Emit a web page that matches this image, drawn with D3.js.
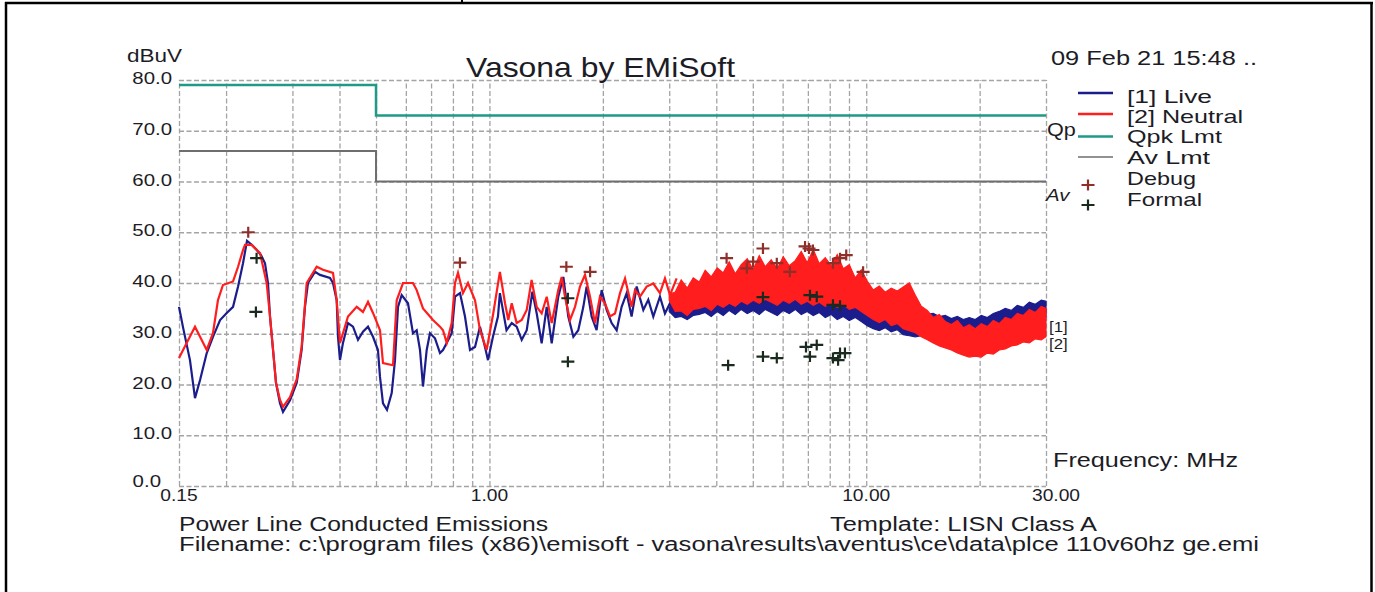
<!DOCTYPE html>
<html><head><meta charset="utf-8">
<script src="https://cdn.jsdelivr.net/npm/d3@7"></script>
<style>
html,body{margin:0;padding:0;background:#fff;}
svg{display:block;}
text{font-family:"Liberation Sans",Arial,sans-serif;fill:#1c1c26;}
</style></head><body>
<svg id="chart" width="1375" height="592"></svg>
<script>
// ---------- data ----------
const xTickValues = [0.15, 1, 10, 30];
const xTickLabels = ["0.15", "1.00", "10.00", "30.00"];
const xGridValues = [0.15, 0.2, 0.3, 0.4, 0.5, 0.6, 0.7, 0.8, 0.9, 1, 2, 3, 4, 5, 6, 7, 8, 9, 10, 20, 30];
const yTickValues = [0, 10, 20, 30, 40, 50, 60, 70, 80];
const yTickLabels = ["0.0", "10.0", "20.0", "30.0", "40.0", "50.0", "60.0", "70.0", "80.0"];

const limitFreq = [0.15, 0.5, 0.5, 30];
const qpkLimit = [79, 79, 73, 73];
const avLimit = [66, 66, 60, 60];

const liveFreq = [0.150,0.1537,0.1604,0.1654,0.1706,0.1777,0.1846,0.1928,0.2008,0.2087,0.2152,0.2218,0.2273,0.2343,0.2412,0.2476,0.2537,0.2584,0.2616,0.2665,0.2714,0.2780,0.2832,0.2956,0.3079,0.3174,0.3239,0.3299,0.3444,0.3551,0.3774,0.3844,0.3932,0.3963,0.4012,0.4086,0.4213,0.4344,0.4479,0.4617,0.4761,0.4909,0.5060,0.5123,0.5218,0.5347,0.5503,0.5615,0.5719,0.5849,0.6079,0.6267,0.6411,0.6542,0.6663,0.6815,0.6953,0.7169,0.7392,0.7529,0.7702,0.7940,0.8103,0.8355,0.8612,0.8880,0.9156,0.9438,0.9732,0.9913,1.0217,1.0535,
  1.066,1.110,1.146,1.181,1.218,1.256,1.300,1.335,1.376,1.419,1.463,1.523,1.571,1.619,1.670,1.721,1.775,1.811,1.867,1.925,1.985,2.047,2.110,2.176,2.243,2.313,2.384,2.459,2.561,2.640,2.722,2.835,2.923,3.014,3.139];
const liveLevel = [35.3,31.3,24.8,17.3,20.9,26.2,29.4,32.7,34.1,35.3,39.3,43.9,48.3,47.5,46.5,45.5,43.9,40.0,33.4,26.8,20.3,16.3,14.6,16.9,20.3,26.8,35.3,40.0,42.2,41.6,41.0,40.0,36.6,29.4,24.8,28.2,32.1,31.4,28.8,30.4,31.4,29.4,26.8,21.5,16.3,15.0,18.3,24.8,35.3,37.6,36.0,30.1,30.7,26.8,19.6,26.8,30.1,29.1,26.2,26.8,28.2,30.1,37.3,38.0,33.4,26.8,27.4,31.4,27.4,24.8,29.4,33.4,
  38.0,30.7,32.1,31.4,28.8,30.7,38.3,34.0,28.1,35.3,28.1,37.3,41.2,33.4,29.4,30.7,35.3,39.3,33.4,30.7,38.6,34.7,32.1,30.7,35.3,38.0,33.4,39.3,34.7,36.7,33.4,37.3,34.0,36.0,34.0];

const neutralFreq = [0.150,0.1572,0.1654,0.1706,0.1777,0.1846,0.1903,0.1962,0.2087,0.2152,0.2218,0.2245,0.2339,0.2461,0.2563,0.2616,0.2665,0.2714,0.2780,0.2832,0.2956,0.3079,0.3174,0.3273,0.3480,0.3616,0.3844,0.3932,0.4012,0.4086,0.4213,0.4444,0.4617,0.4761,0.4909,0.5123,0.5218,0.5547,0.5674,0.5897,0.6267,0.6411,0.6663,0.7082,0.7392,0.7529,0.7702,0.7940,0.8103,0.8252,0.8507,0.8772,0.9156,
  0.944,0.983,1.024,1.066,1.100,1.122,1.146,1.181,1.218,1.256,1.294,1.335,1.376,1.419,1.463,1.523,1.555,1.587,1.636,1.687,1.739,1.793,1.849,1.906,1.965,2.026,2.089,2.154,2.221,2.290,2.384,2.434,2.509,2.614,2.722,2.835,2.923,3.014,3.139];
const neutralLevel = [25.2,28.2,31.4,29.4,26.8,30.1,36.6,39.6,40.3,43.2,46.5,47.5,47.5,45.9,40.0,33.4,26.8,20.3,17.0,15.6,17.5,21.0,27.5,40.0,43.2,42.6,42.0,36.6,28.2,30.1,33.4,35.3,34.3,36.3,34.1,30.7,24.2,23.8,36.6,40.0,40.0,38.6,35.0,32.7,31.4,30.7,28.2,32.1,40.0,42.0,38.0,40.0,36.6,
  30.7,26.8,34.1,42.2,36.0,32.7,36.0,32.1,32.7,34.7,40.6,35.3,34.0,37.3,32.1,38.6,41.2,37.3,32.7,35.3,39.3,41.6,37.3,32.1,37.3,36.0,33.4,34.0,38.0,40.9,35.3,38.6,37.3,39.3,39.9,38.0,40.9,37.6,40.9];

// dense part of the sweep (3 - 30 MHz): spread of each trace
const bandFreq = [3.00,3.112,3.228,3.349,3.474,3.604,3.738,3.878,4.023,4.173,4.329,4.491,4.659,4.833,5.013,5.201,5.395,5.597,5.806,6.023,6.248,6.481,6.723,6.974,7.235,7.505,7.785,8.076,8.378,8.691,9.015,9.352,9.701,10.06,10.44,10.83,11.23,11.65,12.09,12.54,13.01,13.50,14.00,14.52,15.06,15.63,16.21,16.82,17.45,18.10,18.77,19.47,20.20,20.96,21.74,22.55,23.39,24.27,25.17,26.11,27.09,28.10,29.15,30.00];
const neutralBandHi = [37.8,38.2,40.6,39.0,41.0,40.2,42.5,41.2,43.0,42.0,44.2,41.8,43.6,44.8,42.6,45.4,43.2,44.6,42.8,45.2,43.4,44.4,46.2,44.0,46.6,43.8,45.0,43.4,45.6,42.8,43.6,41.0,42.6,40.4,38.6,39.4,38.2,39.0,38.4,39.2,40.0,37.6,35.4,34.6,33.2,33.8,32.4,31.8,32.6,31.2,31.8,31.0,32.0,31.4,32.6,32.0,33.2,32.8,34.0,33.6,34.8,34.2,35.4,35.0];
const neutralBandLo = [36.6,34.4,34.5,33.6,34.8,35.0,35.4,34.6,35.8,35.2,36.0,35.4,36.4,35.8,36.6,36.0,36.8,36.2,35.6,36.6,36.0,36.8,35.8,36.4,35.6,36.2,35.4,36.0,35.2,35.8,34.8,35.2,34.4,33.6,32.8,32.2,32.8,31.6,32.0,31.0,30.6,30.2,29.4,28.8,28.2,27.6,27.2,26.8,26.2,25.8,25.4,25.6,25.4,26.2,26.0,26.8,27.0,27.6,27.8,28.4,28.2,29.0,28.8,29.4];
const liveBandHi = [35.2,36.2,38.0,37.0,38.4,37.6,38.8,38.0,39.2,38.6,39.8,38.8,40.0,39.4,40.4,39.6,40.6,39.8,40.2,40.8,39.6,40.6,41.0,40.2,40.8,40.0,39.6,40.2,39.4,39.8,38.6,38.2,37.6,37.0,36.2,35.6,35.0,34.8,34.4,34.0,33.8,34.2,34.4,33.8,34.0,33.4,33.6,33.0,33.4,32.8,33.2,32.8,33.6,33.2,34.0,34.4,35.0,34.6,35.6,35.2,36.2,35.8,36.6,36.4];
const liveBandLo = [34.4,33.2,33.4,32.8,33.6,33.8,34.2,33.4,34.4,33.6,34.6,33.8,34.8,34.0,34.6,33.8,34.8,34.2,33.6,34.6,34.0,34.8,33.8,34.4,33.6,34.2,33.2,33.8,32.8,33.4,32.6,33.2,32.4,31.6,31.0,30.6,31.2,30.4,30.8,29.8,29.6,29.4,29.6,29.8,30.0,29.8,30.0,30.2,30.0,30.4,30.6,30.8,30.6,31.0,31.2,31.4,31.8,32.0,32.4,32.6,32.8,33.2,33.0,33.4];

const debugFreq = [0.229,0.835,1.60,1.85,4.26,4.82,5.01,5.32,5.79,6.27,6.88,7.05,7.22,8.16,8.52,8.85,9.81];
const debugLevel = [50.0,44.0,43.2,42.2,44.9,42.9,44.2,46.8,43.9,42.2,47.2,46.8,46.5,43.9,44.9,45.5,42.2];
const formalFreq = [0.241,0.240,1.615,1.615,4.30,5.32,5.32,5.79,6.92,7.09,7.09,7.39,7.39,8.16,8.16,8.42,8.52,8.52,8.78];
const formalLevel = [44.9,34.3,37.0,24.5,23.8,25.5,37.2,25.2,27.4,25.5,37.6,27.8,37.3,25.2,35.7,24.8,26.2,35.5,26.2];

const legendLabels = ["[1] Live", "[2] Neutral", "Qpk Lmt", "Av Lmt", "Debug", "Formal"];

// ---------- drawing ----------
const svg = d3.select("#chart");
const C = {live:"#1b1d8c", neutral:"#ff1d1d", qpk:"#1e9a86", av:"#6e6e6e", grid:"#a4a4a4", debug:"#8e2f2a", formal:"#1b2a1e"};

const x = d3.scaleLog().domain([0.15, 30]).range([179, 1046]);
const y = d3.scaleLinear().domain([0, 80]).range([486, 80]);

// page frame
svg.append("line").attr("x1",5).attr("x2",1373).attr("y1",3).attr("y2",3).attr("stroke","#000").attr("stroke-width",2.5);
svg.append("line").attr("x1",6).attr("x2",6).attr("y1",2).attr("y2",592).attr("stroke","#000").attr("stroke-width",2.5);
svg.append("line").attr("x1",1371.5).attr("x2",1371.5).attr("y1",2).attr("y2",592).attr("stroke","#000").attr("stroke-width",2.5);
svg.append("line").attr("x1",462).attr("x2",462).attr("y1",0).attr("y2",4).attr("stroke","#000").attr("stroke-width",2);

// grid via axes
const gx = svg.append("g").attr("transform",`translate(0,${y(0)})`)
  .call(d3.axisBottom(x).tickValues(xGridValues).tickSize(-(y(0)-y(80))).tickFormat(""));
const gy = svg.append("g").attr("transform",`translate(${x(0.15)},0)`)
  .call(d3.axisLeft(y).tickValues(yTickValues).tickSize(-(x(30)-x(0.15))).tickFormat(""));
[gx, gy].forEach(g => {
  g.select(".domain").remove();
  g.selectAll(".tick line").attr("stroke", C.grid).attr("stroke-width",1.3).attr("stroke-dasharray","5,2.5");
});

// limit lines
const limLine = (arr) => d3.line().x((d,i)=>x(limitFreq[i])).y(d=>y(d))(arr);
svg.append("path").attr("d", limLine(avLimit)).attr("fill","none").attr("stroke",C.av).attr("stroke-width",2);
svg.append("path").attr("d", limLine(qpkLimit)).attr("fill","none").attr("stroke",C.qpk).attr("stroke-width",2.5);

// traces
const band = (lo, hi) => d3.area().x((d,i)=>x(bandFreq[i])).y0((d,i)=>y(lo[i])).y1((d,i)=>y(hi[i]))(bandFreq);
const trace = (f, v) => d3.line().x((d,i)=>x(f[i])).y((d,i)=>y(v[i]))(f);

svg.append("path").attr("d", band(liveBandLo, liveBandHi)).attr("fill",C.live).attr("stroke",C.live).attr("stroke-width",1.2).attr("stroke-linejoin","miter");
svg.append("path").attr("d", trace(liveFreq, liveLevel)).attr("fill","none").attr("stroke",C.live).attr("stroke-width",2.2);
svg.append("path").attr("d", band(neutralBandLo, neutralBandHi)).attr("fill",C.neutral).attr("stroke",C.neutral).attr("stroke-width",1.2).attr("stroke-linejoin","miter");
svg.append("path").attr("d", trace(neutralFreq, neutralLevel)).attr("fill","none").attr("stroke",C.neutral).attr("stroke-width",2.2);

// markers
const plus = "M-6.5,0H6.5M0,-5.5V5.5";
svg.append("g").selectAll("path").data(debugFreq).join("path")
  .attr("d", plus).attr("transform",(d,i)=>`translate(${x(d)},${y(debugLevel[i])})`)
  .attr("stroke",C.debug).attr("stroke-width",2.2).attr("fill","none");
svg.append("g").selectAll("path").data(formalFreq).join("path")
  .attr("d", plus).attr("transform",(d,i)=>`translate(${x(d)},${y(formalLevel[i])})`)
  .attr("stroke",C.formal).attr("stroke-width",2.2).attr("fill","none");

// text helpers (the picture is wider than tall, so glyphs are stretched)
function txt(s, px, py, size, width, anchor) {
  const t = svg.append("text").attr("x",px).attr("y",py).attr("font-size",size).text(s);
  if (anchor) t.attr("text-anchor", anchor);
  if (width) t.attr("textLength", width).attr("lengthAdjust","spacingAndGlyphs");
  return t;
}
const STRETCH = 1.2;
function stxt(s, px, py, size, anchor) {
  const t = svg.append("text").attr("x",px).attr("y",py).attr("font-size",size).text(s);
  if (anchor) t.attr("text-anchor", anchor);
  const w = t.node().getComputedTextLength();
  t.attr("textLength", w*STRETCH).attr("lengthAdjust","spacingAndGlyphs");
  return t;
}

// y labels ("0.0" sits a little left and up, clear of "0.15")
yTickValues.forEach((v,i) => {
  if (i === 0) stxt(yTickLabels[i], 161, y(v)+1, 17, "end");
  else stxt(yTickLabels[i], 172, y(v)+4, 17, "end");
});
txt("dBuV", 127, 62, 18, 55);
// x labels
const xLabelShift = [0, 0, 0, 10];
xTickValues.forEach((v,i) => stxt(xTickLabels[i], x(v)+xLabelShift[i], 501, 16, "middle"));

txt("Vasona by EMiSoft", 466, 77, 28, 269);
txt("09 Feb 21 15:48 ..", 1051, 65, 20, 206);

// legend
const legY = [103, 123, 143, 164, 185, 206];
const legW = [85, 116, 95, 83, 69, 75];
legendLabels.forEach((s,i) => txt(s, 1127, legY[i], 18.5, legW[i]));
[[C.live,93],[C.neutral,114],[C.qpk,136.5],[C.av,157]].forEach(([c,yy],i) =>
  svg.append("line").attr("x1",1078).attr("x2",1113).attr("y1",yy).attr("y2",yy).attr("stroke",c).attr("stroke-width", i===3?1.5:2.5));
svg.append("path").attr("d",plus).attr("transform","translate(1088,185)").attr("stroke",C.debug).attr("stroke-width",2.2).attr("fill","none");
svg.append("path").attr("d",plus).attr("transform","translate(1088,205)").attr("stroke",C.formal).attr("stroke-width",2.2).attr("fill","none");
stxt("Qp", 1047, 136, 18);
stxt("Av", 1046, 201, 17).attr("font-style","italic");
stxt("[1]", 1049, 332, 14);
stxt("[2]", 1049, 349, 14);

txt("Frequency: MHz", 1053, 467, 20, 185);
txt("Power Line Conducted Emissions", 179, 531, 20, 369);
txt("Template: LISN Class A", 830, 531, 20, 267);
txt("Filename: c:\\program files (x86)\\emisoft - vasona\\results\\aventus\\ce\\data\\plce 110v60hz ge.emi", 179, 551, 20, 1080);
</script>
</body></html>
